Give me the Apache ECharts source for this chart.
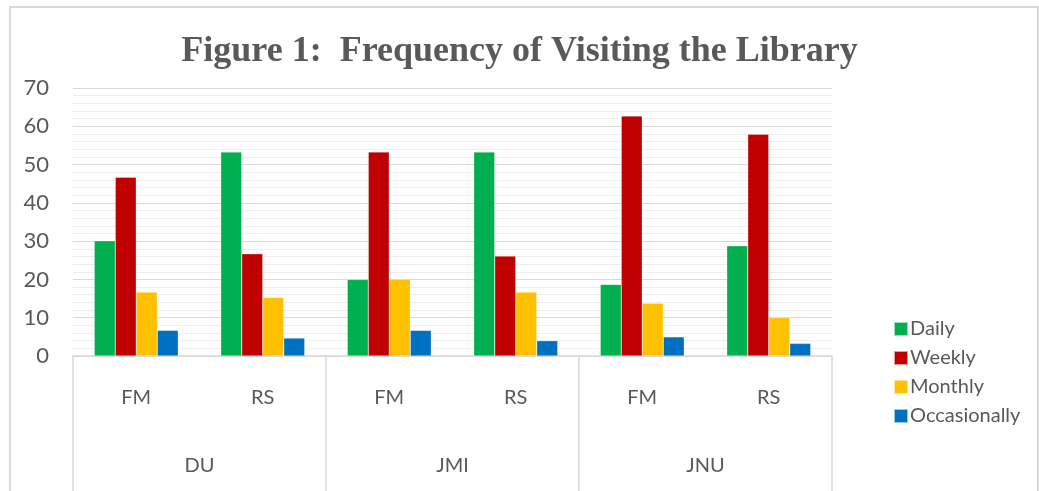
<!DOCTYPE html>
<html>
<head>
<meta charset="utf-8">
<script src="https://cdn.jsdelivr.net/npm/echarts@6/dist/echarts.min.js"></script>
<style>
html, body { margin: 0; padding: 0; background: #fff; }
#chart { width: 1039px; height: 491px; position: relative; }
#frame {
    position: absolute; left: 9px; top: 6px; width: 1026px; height: 500px;
    border: 2px solid #d9d9d9; pointer-events: none;
}
</style>
</head>
<body>
<div id="chart"></div>
<div id="frame"></div>
<script>
// groups and sub-categories (two-level x axis)
var groups = ['DU', 'JMI', 'JNU'];
var subCats = ['FM', 'RS', 'FM', 'RS', 'FM', 'RS'];

// values, order: DU-FM, DU-RS, JMI-FM, JMI-RS, JNU-FM, JNU-RS
var daily = [30.1, 53.3, 20.0, 53.3, 18.7, 28.8];
var weekly = [46.7, 26.7, 53.3, 26.1, 62.7, 57.9];
var monthly = [16.7, 15.3, 20.0, 16.7, 13.8, 10.0];
var occasionally = [6.7, 4.7, 6.7, 4.0, 5.0, 3.3];

var seriesNames = ['Daily', 'Weekly', 'Monthly', 'Occasionally'];
var colorList = ['#00B050', '#C00000', '#FFC000', '#0070C0'];

var txt = '#595959';
var font = 'Lato, "Open Sans", sans-serif';

var myChart = echarts.init(document.getElementById('chart'));

var allData = [daily, weekly, monthly, occasionally];

var option = {
    animation: false,
    title: {
        text: 'Figure 1:  Frequency of Visiting the Library',
        left: 'center',
        top: 29,
        textStyle: {
            fontFamily: '"Liberation Serif", "Times New Roman", serif',
            fontWeight: 'bold',
            fontSize: 36,
            color: txt
        }
    },
    legend: {
        orient: 'vertical',
        left: 888,
        top: 314,
        itemWidth: 14,
        itemHeight: 14,
        itemGap: 9,
        icon: 'rect',
        data: seriesNames,
        textStyle: {
            fontFamily: font,
            fontSize: 20,
            color: txt,
            padding: [0, 0, 0, -3]
        }
    },
    grid: {
        left: 73,
        right: 207,
        top: 88,
        bottom: 135,
        containLabel: false
    },
    xAxis: [{
        type: 'category',
        data: subCats,
        position: 'bottom',
        axisLine: {
            lineStyle: { color: '#d9d9d9', width: 1.5 }
        },
        axisTick: { show: false },
        axisLabel: {
            margin: 32,
            fontFamily: font,
            fontSize: 20,
            color: txt
        }
    }, {
        type: 'category',
        data: groups,
        position: 'bottom',
        axisLine: { show: false },
        axisTick: {
            show: true,
            length: 140,
            lineStyle: { color: '#d9d9d9', width: 1.5 }
        },
        axisLabel: {
            margin: 100,
            fontFamily: font,
            fontSize: 20,
            color: txt
        }
    }],
    yAxis: {
        type: 'value',
        min: 0,
        max: 70,
        interval: 10,
        axisLine: { show: false },
        axisTick: { show: false },
        axisLabel: {
            margin: 24,
            fontFamily: font,
            fontSize: 22,
            color: txt
        },
        splitLine: {
            lineStyle: { color: '#d9d9d9', width: 1 }
        },
        minorTick: { show: false, splitNumber: 5 },
        minorSplitLine: {
            show: true,
            lineStyle: { color: '#eeeeee', width: 1 }
        }
    },
    series: allData.map(function (vals, i) {
        return {
            name: seriesNames[i],
            type: 'bar',
            xAxisIndex: 0,
            barWidth: 21,
            barGap: '0%',
            data: vals,
            itemStyle: {
                color: colorList[i],
                borderColor: 'rgba(255,255,255,0.6)',
                borderWidth: 0.5
            }
        };
    })
};

myChart.setOption(option);
</script>
</body>
</html>
